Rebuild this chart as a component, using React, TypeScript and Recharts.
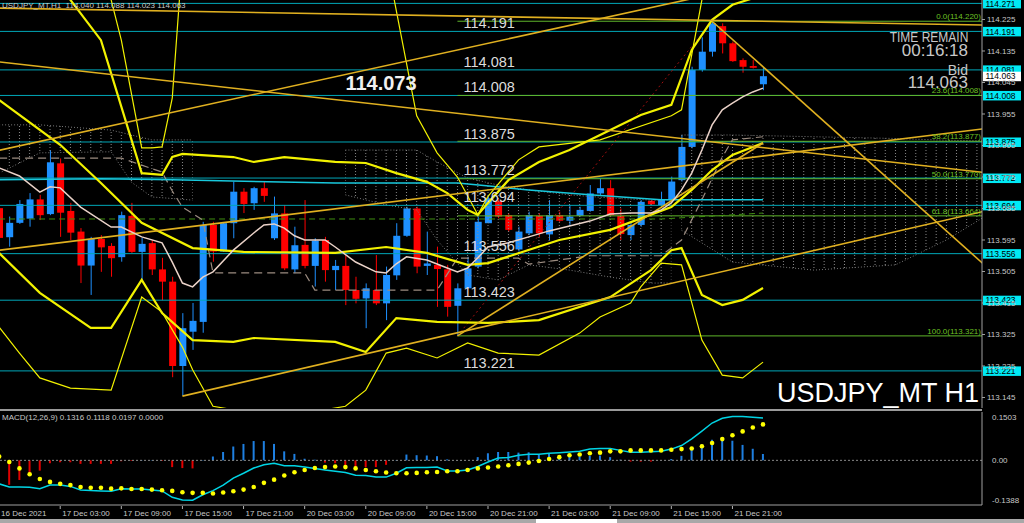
import React from 'react';
import { ComposedChart, Bar, Line, Area, XAxis, YAxis, ReferenceLine, ReferenceDot, Cell } from 'recharts';

// ---------------- DATA ----------------
const openP = [113.686,113.603,113.644,113.656,113.711,113.669,113.814,113.678,113.619,113.522,113.598,113.578,113.546,113.664,113.561,113.586,113.511,113.476,113.235,113.333,113.361,113.638,113.562,113.643,113.733,113.700,113.743,113.600,113.671,113.511,113.581,113.521,113.595,113.509,113.521,113.452,113.428,113.452,113.414,113.494,113.607,113.685,113.521,113.524,113.511,113.407,113.457,113.519,113.643,113.706,113.666,113.568,113.614,113.664,113.611,113.666,113.650,113.664,113.678,113.728,113.743,113.664,113.609,113.638,113.707,113.695,113.709,113.766,113.861,114.081,114.133,114.206,114.157,114.109,114.092,114.040];
const highP = [113.698,113.662,113.709,113.729,113.724,113.852,113.828,113.701,113.629,113.604,113.609,113.586,113.676,113.701,113.601,113.595,113.544,113.490,113.386,113.415,113.647,113.647,113.644,113.762,113.743,113.747,113.762,113.719,113.695,113.633,113.709,113.600,113.604,113.538,113.552,113.490,113.471,113.552,113.519,113.643,113.690,113.690,113.619,113.576,113.524,113.471,113.547,113.662,113.724,113.714,113.671,113.633,113.676,113.671,113.709,113.676,113.695,113.690,113.752,113.771,113.766,113.685,113.647,113.709,113.709,113.733,113.776,113.895,114.090,114.174,114.220,114.214,114.162,114.114,114.109,114.088];
const lowP = [113.589,113.576,113.641,113.633,113.652,113.666,113.604,113.595,113.472,113.438,113.504,113.490,113.533,113.558,113.481,113.495,113.423,113.203,113.150,113.281,113.330,113.533,113.561,113.600,113.672,113.681,113.704,113.595,113.509,113.500,113.514,113.462,113.476,113.452,113.409,113.414,113.343,113.409,113.366,113.481,113.604,113.500,113.495,113.404,113.376,113.321,113.457,113.514,113.643,113.657,113.619,113.562,113.609,113.604,113.595,113.647,113.638,113.662,113.676,113.724,113.662,113.595,113.595,113.633,113.695,113.690,113.704,113.762,113.857,114.076,114.119,114.128,114.104,114.073,114.085,114.023];
const closeP = [113.601,113.644,113.698,113.711,113.666,113.817,113.673,113.616,113.522,113.598,113.574,113.543,113.666,113.561,113.584,113.511,113.476,113.235,113.343,113.364,113.638,113.562,113.643,113.733,113.698,113.743,113.721,113.671,113.514,113.580,113.521,113.593,113.509,113.521,113.452,113.427,113.457,113.414,113.495,113.607,113.685,113.519,113.528,113.512,113.404,113.457,113.514,113.647,113.714,113.662,113.624,113.619,113.666,113.614,113.666,113.650,113.662,113.681,113.728,113.743,113.666,113.612,113.638,113.704,113.697,113.711,113.762,113.861,114.081,114.133,114.214,114.157,114.106,114.090,114.087,114.063];

const macdHist = [-0.08,-0.076,-0.061,-0.045,-0.032,-0.009,-0.006,-0.006,-0.011,-0.011,-0.011,-0.011,-0.003,-0.002,0.001,0.001,-0.002,-0.021,-0.024,-0.025,0.001,0.012,0.026,0.043,0.051,0.060,0.060,0.051,0.028,0.020,0.005,0.002,-0.007,-0.009,-0.017,-0.021,-0.021,-0.021,-0.014,0.001,0.018,0.016,0.015,0.013,0.003,0.000,0.000,0.010,0.022,0.026,0.026,0.024,0.025,0.019,0.020,0.015,0.015,0.012,0.014,0.015,0.010,0.002,-0.004,-0.004,-0.004,0.000,0.004,0.014,0.038,0.050,0.064,0.069,0.061,0.048,0.036,0.0197];
const macdMain = [-0.073,-0.083,-0.083,-0.084,-0.088,-0.077,-0.077,-0.081,-0.092,-0.094,-0.095,-0.096,-0.088,-0.089,-0.089,-0.092,-0.095,-0.115,-0.123,-0.124,-0.107,-0.094,-0.077,-0.055,-0.040,-0.024,-0.014,-0.009,-0.017,-0.017,-0.021,-0.025,-0.030,-0.034,-0.038,-0.046,-0.047,-0.052,-0.052,-0.040,-0.023,-0.022,-0.022,-0.021,-0.033,-0.033,-0.030,-0.019,-0.005,0.007,0.009,0.016,0.019,0.019,0.022,0.024,0.026,0.028,0.035,0.037,0.037,0.031,0.025,0.025,0.027,0.028,0.035,0.046,0.067,0.091,0.116,0.131,0.136,0.136,0.134,0.1316];
const macdSignal = [0.012,-0.005,-0.025,-0.043,-0.058,-0.067,-0.073,-0.077,-0.083,-0.085,-0.085,-0.088,-0.087,-0.089,-0.089,-0.091,-0.093,-0.095,-0.099,-0.101,-0.101,-0.103,-0.100,-0.096,-0.091,-0.083,-0.070,-0.060,-0.047,-0.037,-0.030,-0.024,-0.021,-0.019,-0.021,-0.025,-0.030,-0.034,-0.038,-0.040,-0.040,-0.039,-0.037,-0.036,-0.034,-0.034,-0.030,-0.025,-0.022,-0.019,-0.015,-0.011,-0.007,-0.002,0.004,0.010,0.016,0.018,0.022,0.024,0.028,0.028,0.031,0.031,0.031,0.031,0.033,0.035,0.037,0.044,0.054,0.066,0.078,0.090,0.102,0.1118];

const timeLabels: Record<number, string> = {
  0: '16 Dec 2021', 6: '17 Dec 03:00', 12: '17 Dec 09:00', 18: '17 Dec 15:00', 24: '17 Dec 21:00',
  30: '20 Dec 03:00', 36: '20 Dec 09:00', 42: '20 Dec 15:00', 48: '20 Dec 21:00',
  54: '21 Dec 03:00', 60: '21 Dec 09:00', 66: '21 Dec 15:00', 72: '21 Dec 21:00',
};
const priceTicks = [114.225,114.135,114.045,113.955,113.865,113.775,113.685,113.595,113.505,113.415,113.325,113.235,113.145];
const srLevels = [114.271,114.191,114.081,114.008,113.875,113.772,113.694,113.556,113.423,113.221];
const srTextLevels = [114.191,114.081,114.008,113.875,113.772,113.694,113.556,113.423,113.221];
const fibLevels = [114.220,114.008,113.877,113.770,113.664,113.321];
const fibNames = ['0.0','23.6','38.2','50.0','61.8','100.0'];

type Pts = [number, number][];
type Band = [number, number, number][];
const maFast: Pts = [[0,113.801],[2,113.778],[4,113.732],[5,113.747],[6,113.744],[8,113.689],[11,113.632],[12,113.632],[14,113.604],[16,113.587],[17,113.532],[18,113.472],[19,113.461],[20,113.489],[21,113.504],[23,113.566],[25,113.615],[26,113.638],[27,113.641],[28,113.629],[29,113.607],[30,113.595],[32,113.595],[33,113.575],[35,113.532],[37,113.504],[38,113.501],[39,113.527],[40,113.547],[42,113.538],[44,113.515],[45,113.504],[46,113.515],[47,113.544],[48,113.575],[50,113.587],[52,113.604],[54,113.621],[56,113.635],[58,113.649],[60,113.669],[62,113.672],[64,113.672],[65,113.681],[66,113.701],[67,113.738],[68,113.786],[69,113.852],[70,113.924],[71,113.967],[72,113.986],[73,114.004],[74,114.018],[75,114.029]];
const maSlow: Pts = [[0,113.767],[10,113.770],[17,113.767],[33,113.758],[45,113.758],[52,113.738],[58,113.724],[65,113.710],[75,113.710]];
const maGreen: Pts = [[0,113.655],[65,113.655],[75,113.672]];
const kijun: Pts = [[0,113.829],[12,113.829],[16,113.789],[17,113.735],[18,113.689],[20,113.652],[21,113.501],[30,113.501],[31,113.452],[43,113.452],[45,113.543],[51,113.543],[52,113.526],[58,113.550],[65,113.550],[67,113.595],[69,113.710],[71,113.832],[72,113.881],[75,113.890]];
const bbMid: Pts = [[0,113.995],[6,113.867],[10,113.758],[14,113.644],[19,113.572],[24,113.561],[33,113.558],[38,113.575],[42,113.558],[46,113.524],[48,113.529],[55,113.595],[60,113.624],[66,113.689],[68,113.738],[70,113.795],[72,113.838],[75,113.872]];
const bbUp: Pts = [[0,114.45],[5,114.36],[7,114.281],[10,114.166],[13,113.881],[14,113.786],[16,113.781],[17,113.832],[18,113.841],[23,113.832],[25,113.818],[28,113.832],[33,113.818],[36,113.815],[39,113.786],[42,113.761],[44,113.729],[46,113.681],[47,113.667],[48,113.701],[50,113.766],[53,113.818],[56,113.852],[58,113.881],[63,113.952],[66,113.981],[68,114.138],[70,114.224],[72,114.267],[75,114.295]];
const bbLow: Pts = [[0,113.558],[4,113.444],[9,113.344],[11,113.344],[14,113.481],[16,113.386],[19,113.309],[23,113.304],[25,113.315],[33,113.304],[36,113.275],[39,113.372],[43,113.361],[48,113.358],[53,113.366],[60,113.432],[64,113.509],[66,113.566],[67,113.572],[69,113.438],[71,113.409],[73,113.424],[75,113.458]];
const bb3Up: Pts = [[0,114.6],[10,114.5],[11,114.281],[12,114.166],[14,113.858],[15,113.858],[16,113.861],[17,114.0],[18,114.4],[38,114.4],[41,113.95],[43,113.844],[45,113.775],[47,113.667],[48,113.72],[51,113.824],[53,113.861],[59,113.881],[66,113.95],[67,113.967],[69,114.281],[70,114.5]];
const bb3Low: Pts = [[0,113.346],[2,113.272],[4,113.201],[7,113.172],[11,113.166],[14,113.432],[16,113.389],[18,113.289],[19,113.224],[21,113.12],[25,113.10],[30,113.10],[34,113.12],[36,113.166],[38,113.272],[40,113.286],[43,113.258],[46,113.301],[49,113.272],[53,113.266],[57,113.329],[59,113.375],[62,113.415],[63,113.461],[65,113.529],[67,113.524],[69,113.309],[71,113.209],[73,113.201],[75,113.246]];
const trend1: Pts = [[-1,114.258],[97,114.209]];
const trend2: Pts = [[-1,113.845],[75,114.329]];
const trend3: Pts = [[-1,113.562],[97,113.914]];
const trend4: Pts = [[18,113.149],[97,113.679]];
const trend5: Pts = [[45,113.321],[75,113.872]];
const trend6: Pts = [[70,114.220],[97,113.517]];
const trend7: Pts = [[-1,114.107],[97,113.787]];
const fibDiag: Pts = [[45,113.321],[70,114.220]];
// Ichimoku cloud pieces: [bar, lower, upper]
const cloudA: Band = [[0,113.786,113.924],[4,113.844,113.924],[11,113.847,113.909],[13,113.760,113.895],[15,113.718,113.881],[19,113.709,113.881]];
const cloudB: Band = [[34,113.724,113.852],[38,113.695,113.852],[41,113.681,113.852],[43,113.595,113.818],[46,113.495,113.772],[49,113.481,113.752],[52,113.524,113.738],[56,113.509,113.724],[60,113.489,113.715],[64,113.472,113.709],[66,113.472,113.709]];
const cloudC: Band = [[67,113.623,113.895],[72,113.532,113.895],[80,113.509,113.890],[88,113.524,113.885],[93,113.595,113.880],[97,113.666,113.878]];

// ---------------- TABLES ----------------
const NSLOT = 97;
const candleRows = Array.from({ length: NSLOT }, (_, i) => i < openP.length
  ? { i, o: openP[i], h: highP[i], l: lowP[i], c: closeP[i], range: [lowP[i], highP[i]] }
  : { i, range: null });
const macdRows = Array.from({ length: NSLOT }, (_, i) => ({
  i, hist: i < macdHist.length ? macdHist[i] : null,
  main: i < macdMain.length ? macdMain[i] : null,
  sig: i < macdSignal.length ? macdSignal[i] : null,
}));

const lineSeries: Record<string, Pts> = {
  maFast, maSlow, maGreen, kijun, bbMid, bbUp, bbLow, bb3Up, bb3Low,
  trend1, trend2, trend3, trend4, trend5, trend6, trend7, fibDiag,
};
fibLevels.forEach((v, k) => { lineSeries['fib' + k] = [[45, v], [97, v]]; });
const bandSeries: Record<string, Band> = { cloudA, cloudB, cloudC };
const lineRows = (() => {
  const m = new Map<number, any>();
  const get = (i: number) => { const r = m.get(i) || { i }; m.set(i, r); return r; };
  Object.entries(lineSeries).forEach(([key, pts]) => pts.forEach(([i, v]) => { get(i)[key] = v; }));
  Object.entries(bandSeries).forEach(([key, pts]) => pts.forEach(([i, lo, hi]) => { get(i)[key] = [lo, hi]; }));
  return Array.from(m.values()).sort((a, b) => a.i - b.i);
})();

// ---------------- RENDER ----------------
const FONT = 'Liberation Sans, Arial, sans-serif';
const P_MIN = 113.115, P_MAX = 114.2807;
const CW = 1031, PH = 408;
const SLOT = 988 / NSLOT;

const Candle = (p: any) => {
  const { x, y, width, height, payload } = p;
  if (!payload || payload.h == null) return null;
  const top = Math.min(y, y + height);
  const h = Math.abs(height);
  const k = h / (payload.h - payload.l);
  const yo = top + (payload.h - payload.o) * k;
  const yc = top + (payload.h - payload.c) * k;
  const color = payload.c >= payload.o ? '#1e90ff' : '#ff0000';
  const cx = x + width / 2;
  return (
    <g>
      <line x1={cx} x2={cx} y1={top} y2={top + h} stroke={color} strokeWidth={1} />
      <rect x={x} y={Math.min(yo, yc)} width={width} height={Math.max(Math.abs(yc - yo), 1)} fill={color} />
    </g>
  );
};

const TextMark = (text: string, opts: any) => (p: any) => (
  <text x={p.cx + (opts.dx || 0)} y={p.cy + (opts.dy || 0)} fill={opts.fill} fontSize={opts.size}
    fontWeight={opts.weight || 'normal'} textAnchor={opts.anchor || 'start'} fontFamily={FONT}>{text}</text>
);
const TagMark = (text: string, bg: string) => (p: any) => (
  <g>
    <rect x={p.cx + 1} y={p.cy - 4.5} width={38} height={9.5} fill={bg} />
    <text x={p.cx + 3.5} y={p.cy + 3.2} fontSize={8.5} fill="#000" fontFamily={FONT}>{text}</text>
  </g>
);

const TimeTick = (p: any) => {
  const v = p.payload?.value;
  const label = timeLabels[v];
  if (label === undefined) return null;
  return (
    <g>
      <line x1={p.x} x2={p.x} y1={p.y + 1} y2={p.y + 4} stroke="#b0b0b0" />
      <text x={p.x + 2} y={p.y + 11} fontSize={8} fill="#c8c8c8" fontFamily={FONT}>{label}</text>
    </g>
  );
};
const MacdTick = (p: any) => {
  const v = p.payload?.value;
  const label = v === 0 ? '0.00' : v.toFixed(4);
  const dy = v > 0 ? 8 : v < 0 ? -2 : 3;
  return <text x={p.x + 2} y={p.y + dy} fontSize={8} fill="#c8c8c8" fontFamily={FONT}>{label}</text>;
};

const yellow = '#f2f200';
const gold = '#e0b020';
const lp = { dot: false, activeDot: false, connectNulls: true, isAnimationActive: false } as any;

export default function App() {
  return (
    <div style={{ position: 'absolute', left: 0, top: 0, width: 1024, height: 523, background: '#000', overflow: 'hidden', fontFamily: FONT }}>
      <svg width={0} height={0} style={{ position: 'absolute' }}>
        <defs>
          <pattern id="cloudHatch" patternUnits="userSpaceOnUse" x={0} y={0} width={SLOT} height={3}>
            <rect x={SLOT / 2 - 0.5} y={0} width={1} height={1} fill="#8c8c8c" />
          </pattern>
        </defs>
      </svg>
      {/* candles */}
      <div style={{ position: 'absolute', left: -6.5, top: 0 }}>
        <ComposedChart width={CW} height={PH} data={candleRows} margin={{ top: 0, right: 43, bottom: 0, left: 0 }}>
          <XAxis dataKey="i" type="category" hide />
          <YAxis type="number" domain={[P_MIN, P_MAX]} allowDataOverflow hide />
          <Bar dataKey="range" barSize={7} isAnimationActive={false} shape={(p: any) => <Candle {...p} />} />
        </ComposedChart>
      </div>
      {/* indicators, levels, axis */}
      <div style={{ position: 'absolute', left: -6.5, top: 0 }}>
        <ComposedChart width={CW} height={PH} data={lineRows} margin={{ top: 0, right: 0, bottom: 0, left: 0 }}>
          <XAxis dataKey="i" type="number" domain={[-0.5, 96.5]} allowDataOverflow hide />
          <YAxis orientation="right" width={43} type="number" domain={[P_MIN, P_MAX]} allowDataOverflow
            ticks={priceTicks} interval={0} tickSize={3} tickMargin={2}
            tickFormatter={(v: number) => v.toFixed(3)}
            tick={{ fill: '#c8c8c8', fontSize: 8, fontFamily: FONT }}
            axisLine={{ stroke: '#a0a0a0' }} tickLine={{ stroke: '#a0a0a0' }} />
          {['cloudA', 'cloudB', 'cloudC'].map((k) => (
            <Area key={k} dataKey={k} fill="url(#cloudHatch)" fillOpacity={1} stroke="#7a7a7a" strokeDasharray="1 2"
              strokeWidth={1} connectNulls dot={false} activeDot={false} isAnimationActive={false} />
          ))}
          {srLevels.map((v) => (
            <ReferenceLine key={'sr' + v} y={v} stroke="#00a7b8" strokeWidth={1} />
          ))}
          {fibLevels.map((v, k) => (
            <Line key={'fib' + k} dataKey={'fib' + k} stroke="#5fb52a" strokeWidth={1} {...lp} />
          ))}
          <Line dataKey="fibDiag" stroke="#a01010" strokeDasharray="2 3" strokeWidth={1} {...lp} />
          <Line dataKey="maGreen" stroke="#3f8f10" strokeDasharray="6 4" strokeWidth={1} {...lp} />
          <Line dataKey="kijun" stroke="#9c8c80" strokeDasharray="8 5" strokeWidth={1.2} {...lp} />
          <Line dataKey="maSlow" stroke="#18c8dc" strokeWidth={1.5} {...lp} />
          <Line dataKey="bb3Up" stroke={yellow} strokeWidth={1.2} {...lp} />
          <Line dataKey="bb3Low" stroke={yellow} strokeWidth={1.2} {...lp} />
          <Line dataKey="bbUp" stroke={yellow} strokeWidth={2.2} {...lp} />
          <Line dataKey="bbMid" stroke={yellow} strokeWidth={2.2} {...lp} />
          <Line dataKey="bbLow" stroke={yellow} strokeWidth={2.2} {...lp} />
          {['trend1','trend2','trend3','trend4','trend5','trend6','trend7'].map((k) => (
            <Line key={k} dataKey={k} stroke={gold} strokeWidth={1.6} {...lp} />
          ))}
          <Line dataKey="maFast" stroke="#ead2c8" strokeWidth={1.5} {...lp} />
          {srTextLevels.map((v) => (
            <ReferenceDot key={'srt' + v} x={45.6} y={v} r={0} shape={TextMark(v.toFixed(3), { fill: '#dcdcdc', size: 14.5, dy: -3 })} />
          ))}
          <ReferenceDot x={34} y={114.073} r={0} shape={TextMark('114.073', { fill: '#f0f0f0', size: 20, weight: 'bold', dy: 17 })} />
          {fibLevels.map((v, k) => (
            <ReferenceDot key={'fl' + k} x={96.4} y={v} r={0} shape={TextMark(`${fibNames[k]}(${v.toFixed(3)})`, { fill: '#6cc024', size: 8, dy: -2, anchor: 'end' })} />
          ))}
          {srLevels.map((v) => (
            <ReferenceDot key={'tag' + v} x={96.5} y={v} r={0} shape={TagMark(v.toFixed(3), '#00eaf5')} />
          ))}
          <ReferenceDot x={96.5} y={114.063} r={0} shape={TagMark('114.063', '#ffffff')} />
        </ComposedChart>
      </div>
      {/* separator */}
      <div style={{ position: 'absolute', left: 0, top: 408.5, width: 982, height: 2.5, background: '#9a9a9a' }} />
      {/* MACD */}
      <div style={{ position: 'absolute', left: -6.5, top: 412 }}>
        <ComposedChart width={CW} height={111} data={macdRows} margin={{ top: 0, right: 0, bottom: 0, left: 0 }}>
          <XAxis dataKey="i" type="category" height={18} interval={0} tick={(p: any) => <TimeTick {...p} />}
            tickLine={false} tickSize={0} tickMargin={0} axisLine={{ stroke: '#a0a0a0' }} />
          <YAxis orientation="right" width={43} type="number" domain={[-0.1388, 0.1503]} allowDataOverflow
            ticks={[0.1503, 0, -0.1388]} interval={0} tickLine={false} tick={(p: any) => <MacdTick {...p} />}
            axisLine={{ stroke: '#a0a0a0' }} />
          <ReferenceLine y={0} stroke="#8a8a8a" strokeDasharray="2 2" />
          <Bar dataKey="hist" barSize={2} isAnimationActive={false}>
            {macdRows.map((r, k) => (
              <Cell key={k} fill={r.hist != null && r.hist < 0 ? '#e00000' : '#1e7fe0'} />
            ))}
          </Bar>
          <Line dataKey="main" stroke="#00d4e4" strokeWidth={1.5} dot={false} activeDot={false} isAnimationActive={false} />
          <Line dataKey="sig" stroke="none" dot={{ r: 2.3, fill: '#ffff00', stroke: 'none' }} activeDot={false} isAnimationActive={false} />
        </ComposedChart>
      </div>
      {/* bottom tab strip */}
      <div style={{ position: 'absolute', left: 0, top: 519, width: 1024, height: 4, background: '#a8a8a8' }} />
      <div style={{ position: 'absolute', left: 536, top: 519, width: 81, height: 4, background: '#ffffff' }} />
      {/* texts */}
      <div style={{ position: 'absolute', left: 2, top: 1, fontSize: 8, color: '#c8c8c8', whiteSpace: 'pre', lineHeight: '10px' }}>
        {'USDJPY_MT,H1  114.040 114.088 114.023 114.063'}
      </div>
      <div style={{ position: 'absolute', left: 2, top: 413, fontSize: 8, color: '#c8c8c8', whiteSpace: 'pre', lineHeight: '10px' }}>
        {'MACD(12,26,9) 0.1316 0.1118 0.0197 0.0000'}
      </div>
      <div style={{ position: 'absolute', right: 1024 - 968, top: 29, fontSize: 15, color: '#c8c8c8', whiteSpace: 'pre', lineHeight: '16px', transform: 'scaleX(0.8)', transformOrigin: 'right' }}>TIME REMAIN</div>
      <div style={{ position: 'absolute', right: 1024 - 968, top: 42, fontSize: 17, color: '#c8c8c8', whiteSpace: 'pre', lineHeight: '18px' }}>00:16:18</div>
      <div style={{ position: 'absolute', right: 1024 - 968, top: 62, fontSize: 14, color: '#c8c8c8', whiteSpace: 'pre', lineHeight: '16px' }}>Bid</div>
      <div style={{ position: 'absolute', right: 1024 - 968, top: 74, fontSize: 17, color: '#c8c8c8', whiteSpace: 'pre', lineHeight: '18px' }}>114.063</div>
      <div style={{ position: 'absolute', right: 1024 - 979, top: 377, fontSize: 27, color: '#ffffff', whiteSpace: 'pre', lineHeight: '32px' }}>USDJPY_MT H1</div>
    </div>
  );
}
